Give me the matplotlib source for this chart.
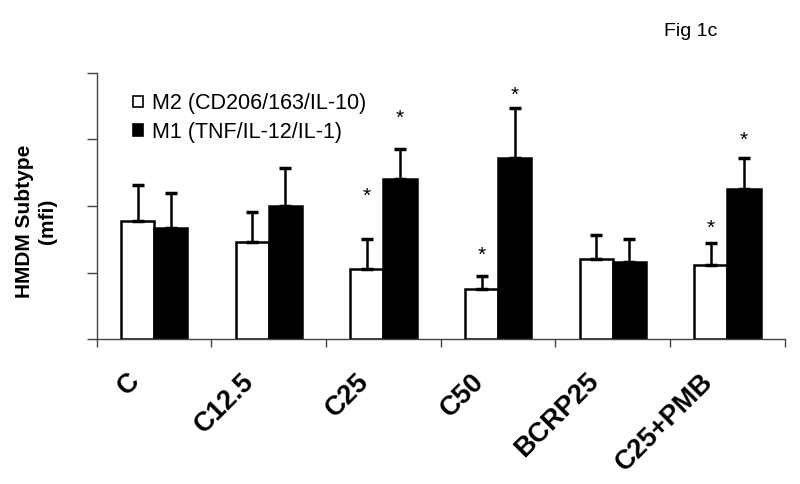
import matplotlib
matplotlib.use('Agg')
import matplotlib.pyplot as plt
import matplotlib.transforms as mtransforms
import numpy as np

# values (mfi, arbitrary units)
groups = ['C', 'C12.5', 'C25', 'C50', 'BCRP25', 'C25+PMB']
m2_mean = [1.77, 1.46, 1.05, 0.76, 1.20, 1.11]
m2_err = [0.54, 0.45, 0.45, 0.19, 0.36, 0.34]
m1_mean = [1.67, 2.00, 2.40, 2.72, 1.16, 2.25]
m1_err = [0.53, 0.57, 0.46, 0.75, 0.35, 0.47]

# significance markers: (group index, series, height of the star)
stars = [(2, 'm2', 2.14), (2, 'm1', 3.32),
         (3, 'm2', 1.26), (3, 'm1', 3.66),
         (5, 'm2', 1.67), (5, 'm1', 2.99)]

plt.rcParams['font.family'] = ['Liberation Sans', 'DejaVu Sans']

fig = plt.figure(figsize=(8, 4.84), dpi=100)
ax = fig.add_axes([0.121, 0.299, 0.860, 0.551])

x = np.arange(len(groups)) + 0.5
width = 0.29

err_kw = dict(ecolor='black', elinewidth=1.8, capsize=4.5, capthick=2.5)
ax.bar(x - width / 2, m2_mean, width, color='white', edgecolor='black',
       linewidth=1.8, yerr=[np.zeros(len(groups)), m2_err],
       error_kw=err_kw, label='M2 (CD206/163/IL-10)', zorder=2)
ax.bar(x + width / 2, m1_mean, width, color='black', edgecolor='black',
       linewidth=1.8, yerr=[np.zeros(len(groups)), m1_err],
       error_kw=err_kw, label='M1 (TNF/IL-12/IL-1)', zorder=2)

for i, series, h in stars:
    xs = x[i] - width / 2 if series == 'm2' else x[i] + width / 2
    ax.text(xs, h, '*', ha='center', va='center', fontsize=15)

ax.set_xlim(0, len(groups))
ax.set_ylim(0, 4)

# ticks at category borders, labels at centres
ax.set_xticks(np.arange(len(groups) + 1))
ax.set_xticklabels([])
ax.set_xticks(x, minor=True)
ax.set_xticklabels(groups, minor=True, rotation=45, ha='right', va='top',
                   fontsize=19.5, fontweight='bold')
ax.tick_params(axis='x', which='minor', length=0, pad=21)
ax.tick_params(axis='x', which='major', length=6, width=1, color='#444444')
shift = mtransforms.ScaledTranslation(-0.09, 0, fig.dpi_scale_trans)
for lab in ax.get_xticklabels(minor=True):
    lab.set_transform(lab.get_transform() + shift)

ax.set_yticks([0, 1, 2, 3, 4])
ax.set_yticklabels([])
ax.tick_params(axis='y', length=7, width=1, color='#444444')

for side in ['top', 'right']:
    ax.spines[side].set_visible(False)
for side in ['left', 'bottom']:
    ax.spines[side].set_color('#444444')
    ax.spines[side].set_linewidth(1)

fig.text(0.045, 1 - 221 / 484, 'HMDM Subtype\n(mfi)', rotation=90,
         ha='center', va='center', multialignment='center',
         fontsize=15, fontweight='bold', linespacing=1.3)

leg = ax.legend(loc='upper left', bbox_to_anchor=(0.04, 0.955), frameon=False,
                fontsize=15.5, handlelength=0.45, handleheight=0.45,
                handletextpad=0.45, labelspacing=0.35, borderaxespad=0)
for h in leg.legend_handles:
    h.set_linewidth(1.2)

fig.text(0.83, 0.935, 'Fig 1c', fontsize=14, ha='left', va='center')

fig.savefig('out.png', dpi=100)
